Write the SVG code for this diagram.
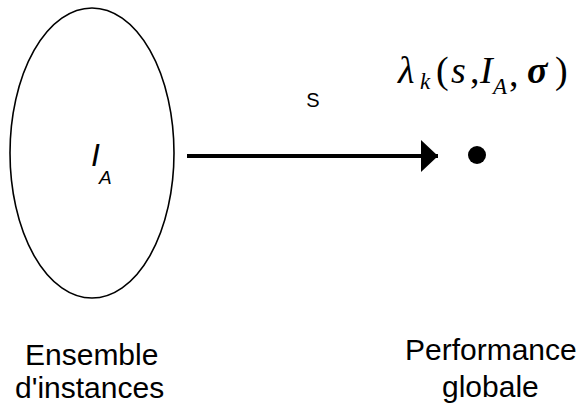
<svg xmlns="http://www.w3.org/2000/svg" width="586" height="414" viewBox="0 0 586 414">
<style>
.lbl{font-family:"Liberation Sans",Arial,sans-serif;font-size:30px;fill:#000}
.m{font-family:"Liberation Serif","Times New Roman",serif;font-style:italic;fill:#000;font-size:38px}
.sub{font-size:23px}
.up{font-style:normal}
</style>
<defs>
<marker id="ah" markerWidth="17" markerHeight="32" refX="17" refY="16" orient="auto" markerUnits="userSpaceOnUse">
<path d="M0,0 L17,16 L0,32 Z" fill="#000"/>
</marker>
</defs>
<rect width="586" height="414" fill="#fff"/>
<g id="ensemble">
<ellipse cx="92" cy="153" rx="82" ry="145" fill="none" stroke="#000" stroke-width="1.6"/>
<text x="91" y="166" font-family="Liberation Sans,Arial,sans-serif" font-style="italic" font-size="32" fill="#000">I</text>
<text x="99" y="184" font-family="Liberation Sans,Arial,sans-serif" font-style="italic" font-size="19" fill="#000">A</text>
<text class="lbl" x="25" y="365">Ensemble</text>
<text class="lbl" x="15" y="398">d'instances</text>
</g>
<g id="performance">
<circle cx="477" cy="155" r="9" fill="#000"/>
<text class="m" x="398" y="83">λ</text>
<text class="m sub" x="420" y="89">k</text>
<text class="m up" x="436" y="83">(</text>
<text class="m" x="451" y="83">s</text>
<text class="m up" x="470" y="83">,</text>
<text class="m" x="480" y="83">I</text>
<text class="m sub" x="493" y="94">A</text>
<text class="m up" x="509" y="86">,</text>
<text class="m" x="527" y="83" font-weight="bold">σ</text>
<text class="m up" x="555" y="83">)</text>
<text class="lbl" x="405" y="360">Performance</text>
<text class="lbl" x="442" y="397">globale</text>
</g>
<g id="connectors">
<line x1="187" y1="156" x2="438" y2="156" stroke="#000" stroke-width="4" marker-end="url(#ah)"/>
<text x="313" y="107" text-anchor="middle" font-family="Liberation Sans,Arial,sans-serif" font-size="20" fill="#000">S</text>
</g>
</svg>
